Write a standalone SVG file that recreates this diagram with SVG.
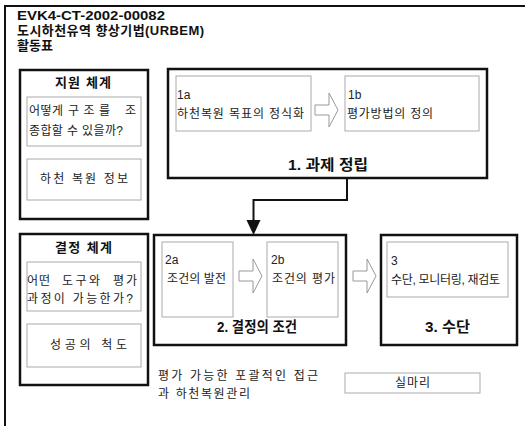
<svg xmlns="http://www.w3.org/2000/svg" width="525" height="426" viewBox="0 0 525 426">
<style>
text{font-family:"Liberation Sans","Noto Sans CJK KR",sans-serif;fill:#222}
.h{font-size:13px;font-weight:bold;fill:#111}
.t{font-size:13px;font-weight:bold;fill:#111}
.big{font-size:15px;font-weight:bold;fill:#111}
.s{font-size:12px}
.thick{fill:none;stroke:#111;stroke-width:2.5}
.thin{fill:#fff;stroke:#aaa;stroke-width:1}
.harrow{fill:#fff;stroke:#999;stroke-width:1}
.conn{fill:none;stroke:#111;stroke-width:2}
</style>
<defs>
<path id="ha" d="M0,-5 H14 V-17 L23,0 L14,17 V5 H0 Z"/>
</defs>
<rect width="525" height="426" fill="#fff"/>
<g id="frame">
<path d="M5,430 V6 H530" fill="none" stroke="#111" stroke-width="2"/>
<text class="h" x="17" y="20" textLength="148" lengthAdjust="spacingAndGlyphs">EVK4-CT-2002-00082</text>
<text class="h" x="17" y="35" textLength="187" lengthAdjust="spacing">도시하천유역 향상기법(URBEM)</text>
<text class="h" x="17" y="50" textLength="36" lengthAdjust="spacing">활동표</text>
</g>
<g id="support">
<rect class="thick" x="20" y="70" width="128" height="149"/>
<text class="t" x="55" y="87" textLength="56" lengthAdjust="spacing">지원 체계</text>
<rect class="thin" x="27" y="97" width="114" height="49"/>
<text class="s" x="29" y="115" textLength="34" lengthAdjust="spacing">어떻게</text>
<text class="s" x="68" y="115" textLength="42" lengthAdjust="spacing">구조를</text>
<text class="s" x="125" y="115">조</text>
<text class="s" x="29" y="135" textLength="94" lengthAdjust="spacing">종합할 수 있을까?</text>
<rect class="thin" x="27" y="159" width="114" height="41"/>
<text class="s" x="40" y="183" textLength="88" lengthAdjust="spacing">하천 복원 정보</text>
</g>
<g id="decision">
<rect class="thick" x="20" y="234" width="128" height="151"/>
<text class="t" x="55" y="252" textLength="57" lengthAdjust="spacing">결정 체계</text>
<rect class="thin" x="27" y="262" width="114" height="49"/>
<text class="s" x="27" y="285" textLength="23" lengthAdjust="spacing">어떤</text>
<text class="s" x="62" y="285" textLength="38" lengthAdjust="spacing">도구와</text>
<text class="s" x="113" y="285" textLength="24" lengthAdjust="spacing">평가</text>
<text class="s" x="27" y="303" textLength="106" lengthAdjust="spacing">과정이 가능한가?</text>
<rect class="thin" x="27" y="324" width="114" height="43"/>
<text class="s" x="50" y="349" textLength="77" lengthAdjust="spacing">성공의 척도</text>
</g>
<g id="task1">
<rect class="thick" x="168" y="69" width="319" height="109"/>
<rect class="thin" x="176" y="76" width="135" height="55"/>
<text class="s" x="177" y="99">1a</text>
<text class="s" x="177" y="118" textLength="127" lengthAdjust="spacing">하천복원 목표의 정식화</text>
<rect class="thin" x="345" y="76" width="134" height="55"/>
<text class="s" x="348" y="99">1b</text>
<text class="s" x="347" y="118" textLength="86" lengthAdjust="spacing">평가방법의 정의</text>
<use href="#ha" class="harrow" x="315" y="110"/>
<text class="big" x="288" y="170" textLength="80" lengthAdjust="spacingAndGlyphs">1. 과제 정립</text>
</g>
<g id="task2">
<rect class="thick" x="154" y="235" width="192" height="110"/>
<rect class="thin" x="162" y="242" width="71" height="75"/>
<text class="s" x="165" y="264">2a</text>
<text class="s" x="167" y="283" textLength="59" lengthAdjust="spacing">조건의 발전</text>
<rect class="thin" x="267" y="242" width="71" height="75"/>
<text class="s" x="271" y="264">2b</text>
<text class="s" x="272" y="283" textLength="63" lengthAdjust="spacing">조건의 평가</text>
<use href="#ha" class="harrow" x="239" y="276"/>
<text class="big" x="217" y="332" textLength="80" lengthAdjust="spacingAndGlyphs">2. 결정의 조건</text>
</g>
<g id="task3">
<rect class="thick" x="381" y="235" width="136" height="110"/>
<rect class="thin" x="387" y="242" width="121" height="55"/>
<text class="s" x="391" y="265">3</text>
<text class="s" x="391" y="284" textLength="109" lengthAdjust="spacing">수단, 모니터링, 재검토</text>
<text class="big" x="425" y="332" textLength="45" lengthAdjust="spacingAndGlyphs">3. 수단</text>
</g>
<g id="bottom">
<text class="s" x="158" y="380" textLength="160" lengthAdjust="spacing">평가 가능한 포괄적인 접근</text>
<text class="s" x="158" y="398" textLength="92" lengthAdjust="spacing">과 하천복원관리</text>
<rect class="thin" x="345" y="373" width="135" height="20"/>
<text class="s" x="395" y="387" textLength="35" lengthAdjust="spacing">실마리</text>
</g>
<g id="connectors">
<polyline class="conn" points="347,178 347,200 253.5,200 253.5,222"/>
<polygon points="246.5,220 260.5,220 253.5,235" fill="#111"/>
<use href="#ha" class="harrow" x="353" y="276"/>
</g>
</svg>
